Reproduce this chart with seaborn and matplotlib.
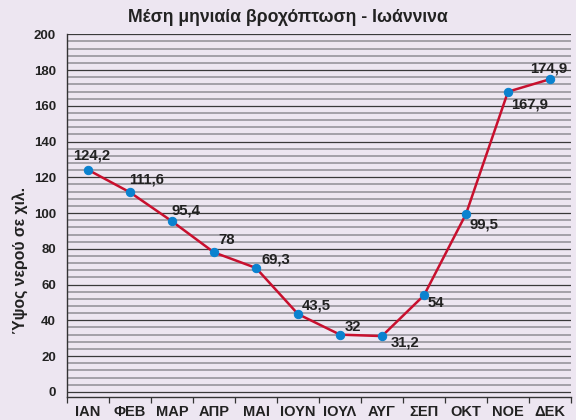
import matplotlib
matplotlib.use("Agg")
import matplotlib.pyplot as plt
import seaborn as sns
import pandas as pd
import numpy as np
from matplotlib.ticker import MultipleLocator, FixedLocator

months = ["ΙΑΝ", "ΦΕΒ", "ΜΑΡ", "ΑΠΡ", "ΜΑΙ", "ΙΟΥΝ", "ΙΟΥΛ", "ΑΥΓ", "ΣΕΠ", "ΟΚΤ", "ΝΟΕ", "ΔΕΚ"]
rain_mm = [124.2, 111.6, 95.4, 78, 69.3, 43.5, 32, 31.2, 54, 99.5, 167.9, 174.9]
value_labels = ["124,2", "111,6", "95,4", "78", "69,3", "43,5", "32", "31,2", "54", "99,5", "167,9", "174,9"]

# label placement relative to each point (pixels: dx, dy, horizontal alignment)
label_offsets = [(4, 14, "center"), (-1, 13, "left"), (0, 11, "left"), (4, 12, "left"),
                 (5, 8, "left"), (4, 9, "left"), (5, 8, "left"), (9, -6, "left"),
                 (4, -8, "left"), (4, -11, "left"), (3, -13, "left"), (-1, 11, "center")]

bg = "#EDE6F1"
line_red = "#C8102E"
dot_blue = "#0A82CF"
ink = "#222222"

sns.set_theme(style="white")
plt.rcParams["font.family"] = ["Liberation Sans", "DejaVu Sans"]
plt.rcParams["font.weight"] = "bold"

df = pd.DataFrame({"pos": np.arange(len(months)), "mm": rain_mm})

fig = plt.figure(figsize=(5.76, 4.2), dpi=100, facecolor=bg)
ax = fig.add_axes([67 / 576, 1 - 396.5 / 420, (571 - 67) / 576, (396.5 - 34.3) / 420])
ax.set_facecolor(bg)

ax.set_xlim(-0.5, 11.5)
ax.set_ylim(-2.6, 200)

# horizontal rules: light every 4 mm, dark every 20 mm
for v in np.arange(0, 201, 4):
    if v % 20 == 0:
        ax.axhline(v, color="#3a3a3a", lw=0.9, zorder=1)
    else:
        ax.axhline(v, color="#939199", lw=1.15, zorder=1)

sns.lineplot(data=df, x="pos", y="mm", ax=ax, color=line_red, lw=1.8,
             marker="o", markersize=6, markerfacecolor=dot_blue,
             markeredgecolor=dot_blue, zorder=3)

for i, (v, lab) in enumerate(zip(rain_mm, value_labels)):
    dx, dy, ha = label_offsets[i]
    ax.annotate(lab, (i, v), xytext=(dx, dy), textcoords="offset pixels",
                ha=ha, va="center", fontsize=10.7, fontweight="bold", color=ink, zorder=4)

for s in ["top", "right"]:
    ax.spines[s].set_visible(False)
ax.spines["left"].set_color("#333333")
ax.spines["bottom"].set_color("#333333")
ax.spines["left"].set_linewidth(1.0)
ax.spines["bottom"].set_linewidth(1.0)

ax.yaxis.set_major_locator(MultipleLocator(20))
ax.yaxis.set_minor_locator(MultipleLocator(4))
ax.tick_params(axis="y", which="major", length=7, width=0.9, color="#3a3a3a",
               labelsize=9.5, pad=1, labelcolor=ink)
ax.tick_params(axis="y", which="minor", length=4.5, width=1.0, color="#939199")
for t in ax.get_yticklabels():
    t.set_fontweight("bold")

ax.set_xticks(np.arange(len(months)))
ax.set_xticklabels(months, fontsize=10.5, fontweight="bold", color=ink)
ax.xaxis.set_minor_locator(FixedLocator(np.arange(-0.5, 12, 1)))
ax.tick_params(axis="x", which="major", length=0, pad=6)
ax.tick_params(axis="x", which="minor", length=4.5, width=0.9, color="#333333", bottom=True)

ax.set_xlabel("")
ax.set_ylabel("")
fig.text(20 / 576, 1 - 260 / 420, "Ύψος νερού σε χιλ.", rotation=90, ha="center", va="center",
         fontsize=11.3, fontweight="bold", color=ink)

fig.text(0.5, 1 - 18 / 420, "Μέση μηνιαία βροχόπτωση - Ιωάννινα", ha="center", va="center",
         fontsize=12.7, fontweight="bold", color=ink)

fig.savefig("out.png", dpi=100, facecolor=bg)
